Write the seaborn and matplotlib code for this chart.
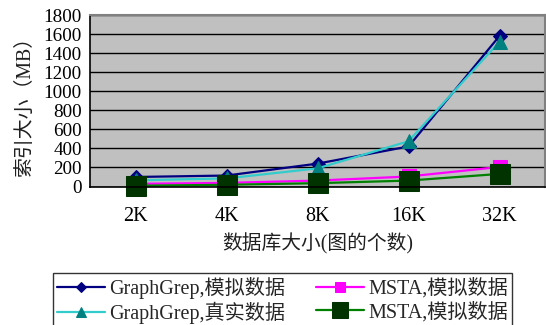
import numpy as np
import pandas as pd
import matplotlib
matplotlib.use("Agg")
import matplotlib.pyplot as plt
import seaborn as sns

# database sizes (number of graphs) and index sizes in MB
categories = ["2K", "4K", "8K", "16K", "32K"]
graphgrep_sim = [100, 115, 240, 420, 1580]
graphgrep_real = [65, 85, 190, 475, 1520]
msta_sim_a = [28, 38, 62, 105, 205]
msta_sim_b = [8, 18, 35, 62, 132]
y_ticks = [0, 200, 400, 600, 800, 1000, 1200, 1400, 1600, 1800]

series_labels = ["GraphGrep,模拟数据", "GraphGrep,真实数据", "MSTA,模拟数据", "MSTA,模拟数据"]

sns.set_theme(style="white")
plt.rcParams["font.family"] = ["Liberation Serif", "Noto Sans CJK SC"]
plt.rcParams["axes.unicode_minus"] = False

fig = plt.figure(figsize=(5.46, 3.25), dpi=100)
ax = fig.add_axes([90 / 546, 1 - 186.5 / 325, 455 / 546, 171.5 / 325])
ax.set_facecolor("#C0C0C0")

x = np.arange(len(categories))
styles = [
    dict(values=graphgrep_sim, color="#000080", marker="D", ms=7.0, mfc="#000080", mec="#000080"),
    dict(values=graphgrep_real, color="#33CCCC", marker="^", ms=10.5, mfc="#008080", mec="#008080"),
    dict(values=msta_sim_a, color="#FF00FF", marker="s", ms=9.5, mfc="#FF00FF", mec="#FF00FF"),
    dict(values=msta_sim_b, color="#008000", marker="s", ms=15, mfc="#003300", mec="#003300"),
]

for label, st in zip(series_labels, styles):
    df = pd.DataFrame({"x": x, "y": st["values"]})
    sns.lineplot(data=df, x="x", y="y", ax=ax, color=st["color"], lw=1.6,
                 marker=st["marker"], markersize=st["ms"],
                 markerfacecolor=st["mfc"], markeredgecolor=st["mec"],
                 label=label, clip_on=False, legend=False)

ax.set_xlim(-0.5, len(categories) - 0.5)
ax.set_ylim(0, 1800)
ax.set_yticks(y_ticks)
ax.set_yticklabels([str(v) for v in y_ticks])
ax.set_xticks(x)
ax.set_xticklabels(categories)
ax.set_xticks(np.arange(0.5, len(categories) - 0.5, 1.0), minor=True)
ax.tick_params(axis="x", which="major", length=0, pad=15, labelsize=14.5, colors="black")
ax.tick_params(axis="x", which="minor", length=4, width=1, direction="in", color="#303030")
ax.tick_params(axis="y", length=0, pad=6, labelsize=13.8, colors="black")

ax.grid(axis="y", color="black", lw=1.0)
ax.set_axisbelow(True)

for side in ["left", "bottom"]:
    ax.spines[side].set_color("black")
    ax.spines[side].set_linewidth(1.2)
for side in ["top", "right"]:
    ax.spines[side].set_color("#808080")
    ax.spines[side].set_linewidth(1.5)

ax.set_xlabel("数据库大小(图的个数)", fontsize=14.2, labelpad=5, color="#202020")
ax.set_ylabel("索引大小（MB）", fontsize=14.3, labelpad=6, color="#202020")

handles, labels = ax.get_legend_handles_labels()
leg = fig.legend(handles, labels, ncol=2, loc="upper left",
                 bbox_to_anchor=(53 / 546, 1 - 273 / 325),
                 fontsize=14.5, frameon=True, fancybox=False, markerscale=0.75,
                 handlelength=2.4, handletextpad=0.2, columnspacing=1.5,
                 labelspacing=0.15, borderpad=0.2, borderaxespad=0)
leg.get_frame().set_edgecolor("black")
leg.get_frame().set_linewidth(1.0)
leg.get_frame().set_facecolor("white")

fig.savefig("out.png", dpi=100)
